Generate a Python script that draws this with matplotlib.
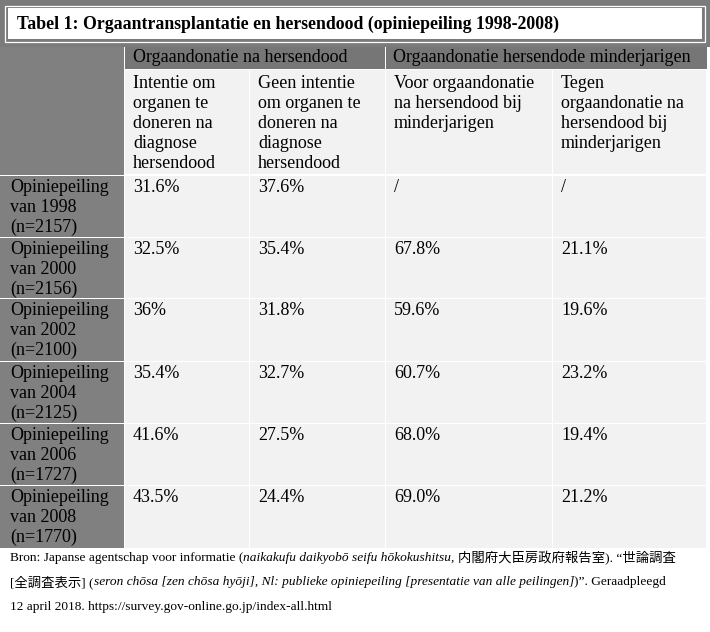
import matplotlib.pyplot as plt
from matplotlib.patches import Rectangle

plt.rcParams['font.family'] = ['Liberation Serif', 'Noto Sans CJK JP', 'DejaVu Sans']

# tabelinhoud
title = 'Tabel 1: Orgaantransplantatie en hersendood (opiniepeiling 1998-2008)'
groups = ['Orgaandonatie na hersendood', 'Orgaandonatie hersendode minderjarigen']
subheads = ['Intentie om\norganen te\ndoneren na\ndiagnose\nhersendood',
            'Geen intentie\nom organen te\ndoneren na\ndiagnose\nhersendood',
            'Voor orgaandonatie\nna hersendood bij\nminderjarigen',
            'Tegen\norgaandonatie na\nhersendood bij\nminderjarigen']
years = [1998, 2000, 2002, 2004, 2006, 2008]
n_resp = [2157, 2156, 2100, 2125, 1727, 1770]
intent = ['31.6%', '32.5%', '36%', '35.4%', '41.6%', '43.5%']
no_intent = ['37.6%', '35.4%', '31.8%', '32.7%', '27.5%', '24.4%']
minor_for = ['/', '67.8%', '59.6%', '60.7%', '68.0%', '69.0%']
minor_against = ['/', '21.1%', '19.6%', '23.2%', '19.4%', '21.2%']

# bron
src1 = [('Bron: Japanse agentschap voor informatie (', 'normal'),
        ('naikakufu daikyobō seifu hōkokushitsu,', 'italic'),
        (' 内閣府大臣房政府報告室). “世論調査', 'normal')]
src2 = [('[全調査表示] (', 'normal'),
        ('seron chōsa [zen chōsa hyōji], Nl: publieke opiniepeiling [presentatie van alle peilingen]', 'italic'),
        (')”. Geraadpleegd', 'normal')]
src3 = [('12 april 2018. https://survey.gov-online.go.jp/index-all.html', 'normal')]

W, H = 710, 632
fig = plt.figure(figsize=(W / 100, H / 100), dpi=100)
ax = fig.add_axes([0, 0, 1, 1])
ax.set_xlim(0, W)
ax.set_ylim(H, 0)
ax.axis('off')

band = '#7b7b7b'
head = '#767676'
stub = '#808080'
cell = '#f2f2f2'
fs = 13.0
ls = 1.22

# titelbalk
ax.add_patch(Rectangle((0, 0), W, 47, color=band, lw=0))
ax.add_patch(Rectangle((4.5, 5.5), 700, 36, fill=False, ec='white', lw=0.9))
ax.add_patch(Rectangle((7.5, 8), 694, 31, color='white', lw=0))
ax.text(17, 24, title, fontsize=12.75, fontweight='bold', va='center', ha='left')

# rasters
cols = [125, 250, 386, 553, 707]
rows = [175, 237, 298, 361, 423, 485, 548]
g = 1.0

ax.add_patch(Rectangle((0, 47), 124, rows[0] - 47, color=stub, lw=0))
ax.add_patch(Rectangle((cols[0], 47), cols[2] - cols[0] - g, 22, color=head, lw=0))
ax.add_patch(Rectangle((cols[2], 47), cols[4] - cols[2], 22, color=head, lw=0))
ax.text(cols[0] + 8, 58, groups[0], fontsize=fs, va='center')
ax.text(cols[2] + 7, 58, groups[1], fontsize=fs, va='center')

for j, s in enumerate(subheads):
    ax.add_patch(Rectangle((cols[j], 70), cols[j + 1] - cols[j] - g, rows[0] - 70 - g,
                           color=cell, lw=0))
    ax.text(cols[j] + 8, 75.5, s, fontsize=fs, va='top', linespacing=ls)

table = [intent, no_intent, minor_for, minor_against]
for i in range(len(years)):
    y0, y1 = rows[i], rows[i + 1]
    ax.add_patch(Rectangle((0, y0 + g), 124, y1 - y0 - g, color=stub, lw=0))
    ax.text(10, y0 + 4, 'Opiniepeiling\nvan %d\n(n=%d)' % (years[i], n_resp[i]),
            fontsize=fs, va='top', linespacing=ls)
    for j, colvals in enumerate(table):
        ax.add_patch(Rectangle((cols[j], y0 + g), cols[j + 1] - cols[j] - g, y1 - y0 - g,
                               color=cell, lw=0))
        ax.text(cols[j] + 8, y0 + 4, colvals[i], fontsize=fs, va='top')

# bronvermelding met gemengde stijlen
renderer = fig.canvas.get_renderer()


def runs(x, y, parts, size):
    for s, st in parts:
        lead = len(s) - len(s.lstrip(' '))
        if lead:
            x += 3.2 * lead
        t = ax.text(x, y, s.lstrip(' '), fontsize=size, style=st, va='center', ha='left')
        x += t.get_window_extent(renderer=renderer).width
        if s.endswith(' '):
            x += 3.2


runs(10, 558, src1, 9.6)
runs(10, 582, src2, 9.6)
runs(10, 607, src3, 9.6)

fig.savefig('out.png', dpi=100)
